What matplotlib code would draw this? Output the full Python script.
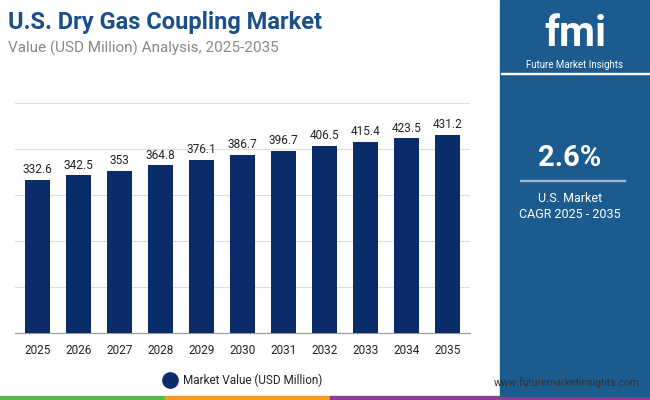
import matplotlib
matplotlib.use("Agg")
import matplotlib.pyplot as plt
from matplotlib.patches import Rectangle

years = ["2025","2026","2027","2028","2029","2030","2031","2032","2033","2034","2035"]
values = [332.6,342.5,353,364.8,376.1,386.7,396.7,406.5,415.4,423.5,431.2]
labels = ["332.6","342.5","353","364.8","376.1","386.7","396.7","406.5","415.4","423.5","431.2"]

W, H = 650, 400
fig = plt.figure(figsize=(6.5, 4.0), dpi=100)
fig.patch.set_facecolor("white")
plt.rcParams["font.family"] = "Roboto"

ax = fig.add_axes([15/W, 1-333/H, 455/W, (333-103)/H])
navy = "#0b2c6a"
x = range(len(years))
ax.bar(x, values, width=0.62, color=navy, zorder=3)
for i, (v, l) in enumerate(zip(values, labels)):
    ax.text(i, v + 8, l, ha="center", va="bottom", fontsize=8.5, color="#222222")
ax.set_ylim(0, 500)
ax.set_xlim(-0.55, len(years) - 0.45)
ax.set_yticks([0, 100, 200, 300, 400, 500])
ax.yaxis.grid(True, color="#dddddd", lw=0.8, zorder=0)
ax.tick_params(axis="y", length=0, labelleft=False)
ax.set_xticks(list(x))
ax.set_xticklabels(years, fontsize=8.5, color="#222222")
ax.tick_params(axis="x", length=0, pad=8)
for s in ["top", "right", "left"]:
    ax.spines[s].set_visible(False)
ax.spines["bottom"].set_color("#999999")

fig.text(8/W, 1-22/H, "U.S. Dry Gas Coupling Market", fontsize=17, fontweight="bold", color="#1a4f8a", va="center")
fig.text(8/W, 1-48/H, "Value (USD Million) Analysis, 2025-2035", fontsize=11, color="#888888", va="center")

# legend
fig.add_artist(plt.Line2D([170/W], [1-380/H], marker="o", ms=11, color=navy, transform=fig.transFigure))
fig.text(183/W, 1-380/H, "Market Value (USD Million)", fontsize=8.5, color="#222222", va="center")
fig.text(640/W, 1-383/H, "www.futuremarketinsights.com", fontsize=7.5, color="#333333", va="center", ha="right")

# bottom stripe
for x0, x1, c in [(0, 165, "#5cb848"), (165, 330, "#f39c1f"), (330, 650, "#8e3d97")]:
    fig.add_artist(Rectangle((x0/W, 0), (x1-x0)/W, 4/H, color=c, transform=fig.transFigure))

# right panel
fig.add_artist(Rectangle((500/W, 4/H), 150/W, 1-4/H, color="#1b5b8f", transform=fig.transFigure))
fig.text(575/W, 1-35/H, "fmi", fontsize=30, fontweight="bold", color="white", ha="center", va="center")
fig.text(575/W, 1-65/H, "Future Market Insights", fontsize=7, color="white", ha="center", va="center")
fig.add_artist(Rectangle((501/W, 1-74/H), 149/W, 1/H, color="white", transform=fig.transFigure))
fig.text(570/W, 1-158/H, "2.6%", fontsize=21, fontweight="bold", color="white", ha="center", va="center")
fig.add_artist(Rectangle((520/W, 1-181/H), 105/W, 0.8/H, color="#9bb8d3", transform=fig.transFigure))
fig.text(570/W, 1-198/H, "U.S. Market", fontsize=9, color="white", ha="center", va="center")
fig.text(570/W, 1-214/H, "CAGR 2025 - 2035", fontsize=9, color="white", ha="center", va="center")

fig.savefig("out.png", dpi=100)
